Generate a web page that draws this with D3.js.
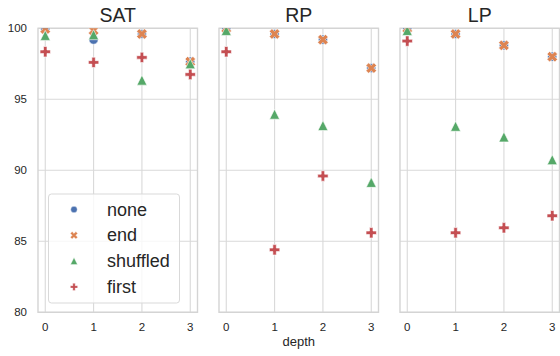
<!DOCTYPE html>
<html>
<head>
<meta charset="utf-8">
<script src="https://cdn.jsdelivr.net/npm/d3@7"></script>
<style>
  body { margin: 0; background: #fff; }
  text { font-family: "Liberation Sans", Arial, sans-serif; fill: #262626; }
</style>
</head>
<body>
<div id="chart"></div>
<script>
(function(){
  const width = 560, height = 356;

  // data
  const depths = [0, 1, 2, 3];
  const panels = ["SAT", "RP", "LP"];
  const series = ["none", "end", "shuffled", "first"];
  const colors = ["#4c72b0", "#dd8452", "#55a868", "#c44e52"];
  const yTicks = [80, 85, 90, 95, 100];

  const satNone     = [99.95, 99.2, 99.6, 97.65];
  const satEnd      = [99.95, 99.85, 99.6, 97.65];
  const satShuffled = [99.5, 99.55, 96.35, 97.5];
  const satFirst    = [98.35, 97.6, 97.95, 96.75];

  const rpNone      = [100, 99.6, 99.2, 97.2];
  const rpEnd       = [100, 99.6, 99.2, 97.2];
  const rpShuffled  = [99.85, 93.95, 93.15, 89.15];
  const rpFirst     = [98.35, 84.4, 89.6, 85.6];

  const lpNone      = [100, 99.6, 98.8, 98.0];
  const lpEnd       = [100, 99.6, 98.8, 98.0];
  const lpShuffled  = [99.85, 93.1, 92.35, 90.75];
  const lpFirst     = [99.1, 85.6, 85.95, 86.8];

  const values = {
    SAT: [satNone, satEnd, satShuffled, satFirst],
    RP:  [rpNone, rpEnd, rpShuffled, rpFirst],
    LP:  [lpNone, lpEnd, lpShuffled, lpFirst]
  };

  // layout
  const lefts = [38, 219, 400];
  const pw = 159.5;
  const top = 28.3, bottom = 312.3;

  const svg = d3.select("#chart").append("svg")
    .attr("width", width).attr("height", height);

  const y = d3.scaleLinear().domain([80, 100]).range([bottom, top]);

  // marker shapes (unit size s = half width)
  function plusPath(s) {
    const a = s / 3;
    return `M${-a},${-s}H${a}V${-a}H${s}V${a}H${a}V${s}H${-a}V${a}H${-s}V${-a}H${-a}Z`;
  }
  function xPath(s) {
    const pts = [];
    const a = s / 3;
    const base = [[-a,-s],[a,-s],[a,-a],[s,-a],[s,a],[a,a],[a,s],[-a,s],[-a,a],[-s,a],[-s,-a],[-a,-a]];
    const c = Math.SQRT1_2;
    base.forEach(([px, py]) => pts.push([(px - py) * c, (px + py) * c]));
    return "M" + pts.map(p => p.join(",")).join("L") + "Z";
  }
  function triPath(s) {
    return `M0,${-s}L${s},${s}L${-s},${s}Z`;
  }
  function circlePath(s) {
    return d3.symbol(d3.symbolCircle, Math.PI * s * s)();
  }
  const shapes = [
    s => circlePath(s),
    s => xPath(s),
    s => triPath(s),
    s => plusPath(s)
  ];
  const markerSize = [4.6, 5.6, 5.0, 5.2];

  panels.forEach((name, pi) => {
    const x = d3.scaleLinear().domain([-0.15, 3.15]).range([lefts[pi], lefts[pi] + pw]);
    const g = svg.append("g");

    g.append("clipPath").attr("id", "clip" + pi)
      .append("rect").attr("x", lefts[pi]).attr("y", top)
      .attr("width", pw).attr("height", bottom - top);

    // grid
    g.selectAll(".hg").data(yTicks).join("line")
      .attr("x1", x.range()[0]).attr("x2", x.range()[1])
      .attr("y1", d => y(d)).attr("y2", d => y(d))
      .attr("stroke", "#d9d9d9").attr("stroke-width", 1.1);
    g.selectAll(".vg").data(depths).join("line")
      .attr("x1", d => x(d)).attr("x2", d => x(d))
      .attr("y1", top).attr("y2", bottom)
      .attr("stroke", "#d9d9d9").attr("stroke-width", 1.1);

    // frame
    g.append("rect").attr("x", lefts[pi]).attr("y", top)
      .attr("width", pw).attr("height", bottom - top)
      .attr("fill", "none").attr("stroke", "#d4d4d4").attr("stroke-width", 1.4);

    // tick labels
    g.selectAll(".xt").data(depths).join("text")
      .attr("x", d => x(d)).attr("y", 331)
      .attr("text-anchor", "middle").attr("font-size", 11.5)
      .text(d => d);
    if (pi === 0) {
      g.selectAll(".yt").data(yTicks).join("text")
        .attr("x", 27).attr("y", d => y(d) + 4)
        .attr("text-anchor", "end").attr("font-size", 11.5)
        .text(d => d);
    }

    // title
    g.append("text").attr("x", lefts[pi] + pw / 2).attr("y", 22)
      .attr("text-anchor", "middle").attr("font-size", 19.5)
      .text(name);

    // markers
    const mg = g.append("g").attr("clip-path", `url(#clip${pi})`);
    values[name].forEach((vals, si) => {
      mg.selectAll(".m" + si).data(vals).join("path")
        .attr("d", shapes[si](markerSize[si]))
        .attr("transform", (d, i) => `translate(${x(depths[i])},${y(d)})`)
        .attr("fill", colors[si])
        .attr("stroke", "#fff").attr("stroke-width", 0.6);
    });
  });

  // x axis label
  svg.append("text").attr("x", lefts[1] + pw / 2).attr("y", 346)
    .attr("text-anchor", "middle").attr("font-size", 13)
    .text("depth");

  // legend
  const lg = svg.append("g");
  lg.append("rect").attr("x", 48.5).attr("y", 194).attr("width", 131).attr("height", 109)
    .attr("rx", 3).attr("fill", "#fff").attr("fill-opacity", 0.8)
    .attr("stroke", "#d9d9d9").attr("stroke-width", 1);
  series.forEach((s, i) => {
    const cy = 209.5 + i * 25.8;
    lg.append("path").attr("d", shapes[i](markerSize[i] * 0.7))
      .attr("transform", `translate(74,${cy})`)
      .attr("fill", colors[i]).attr("stroke", "#fff").attr("stroke-width", 0.4);
    lg.append("text").attr("x", 107).attr("y", cy + 6).attr("font-size", 18).text(s);
  });
})();
</script>
</body>
</html>
